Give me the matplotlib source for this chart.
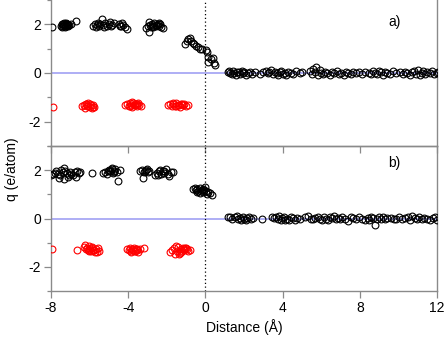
import matplotlib
matplotlib.use("Agg")
import matplotlib.pyplot as plt
import numpy as np

plt.rcParams['font.family'] = ['Liberation Sans', 'DejaVu Sans']
plt.rcParams['axes.unicode_minus'] = False

# ---------------- panel a) ----------------
a_black_x = [-7.95,
    -7.48, -7.44, -7.40, -7.36, -7.32, -7.28, -7.24, -7.20, -7.16, -7.12, -7.08,
    -7.42, -7.34, -7.26, -7.18, -7.10, -6.96, -6.72,
    -5.80, -5.74, -5.68, -5.62, -5.56, -5.50, -5.44, -5.36, -5.30, -5.24, -5.18, -5.10,
    -5.02, -4.96, -4.90, -4.84, -4.76, -4.50, -4.44, -4.38, -4.32, -4.26, -4.18, -4.08,
    -3.10, -3.00, -2.94, -2.88, -2.82, -2.76, -2.70, -2.64, -2.58, -2.52, -2.46, -2.40,
    -2.34, -2.28, -2.22, -2.90, -2.74, -2.56, -2.40,
    -1.05, -0.95, -0.88, -0.80, -0.74, -0.66, -0.58, -0.50, -0.40, -0.28, -0.18,
    0.02, 0.10, 0.16, 0.14, 0.30, 0.40, 0.44, 0.50]
a_black_y = [1.88,
    1.95, 2.02, 1.92, 2.00, 1.97, 1.90, 2.04, 1.95, 2.00, 1.93, 1.98,
    1.88, 2.06, 1.92, 2.02, 1.96, 2.03, 2.12,
    1.95, 2.02, 1.90, 1.98, 2.06, 1.93, 2.00, 2.20, 1.96, 1.88, 2.04, 1.95,
    2.00, 2.10, 1.92, 1.98, 2.05, 2.02, 1.95, 1.92, 2.06, 1.98, 1.90, 1.82,
    1.84, 1.92, 1.70, 1.98, 1.88, 2.02, 1.95, 2.05, 1.92, 1.98, 2.03, 1.94,
    2.00, 1.88, 1.86, 2.08, 1.90, 1.96, 2.06,
    1.20, 1.32, 1.38, 1.42, 1.30, 1.25, 1.18, 1.12, 1.05, 1.00, 0.98,
    0.95, 0.88, 0.66, 0.46, 0.58, 0.62, 0.42, 0.32]

a_red_x = [-7.90,
    -6.38, -6.30, -6.24, -6.18, -6.12, -6.06, -6.00, -5.94, -5.88, -5.82, -5.76,
    -6.20, -6.08, -5.96, -5.84,
    -4.15, -4.05, -3.98, -3.92, -3.86, -3.80, -3.74, -3.68, -3.62, -3.56, -3.50,
    -3.42, -3.32, -3.90, -3.78, -3.66, -3.54,
    -1.92, -1.82, -1.74, -1.66, -1.58, -1.50, -1.42, -1.34, -1.26, -1.18, -1.10,
    -1.02, -0.92, -1.70, -1.54, -1.38, -1.22]
a_red_y = [-1.38,
    -1.36, -1.30, -1.42, -1.28, -1.35, -1.25, -1.40, -1.32, -1.45, -1.30, -1.38,
    -1.26, -1.34, -1.28, -1.40,
    -1.30, -1.26, -1.34, -1.22, -1.30, -1.38, -1.25, -1.32, -1.28, -1.35, -1.24,
    -1.30, -1.34, -1.36, -1.20, -1.30, -1.27,
    -1.32, -1.26, -1.36, -1.28, -1.34, -1.22, -1.30, -1.38, -1.26, -1.32, -1.28,
    -1.35, -1.30, -1.24, -1.34, -1.30, -1.27]

a_base_x = [1.15, 1.22, 1.30, 1.36, 1.44, 1.50, 1.58, 1.64, 1.72, 1.80, 1.88, 1.95,
    2.02, 2.10, 2.20, 2.30, 2.42, 2.58,
    2.85, 3.00, 3.12, 3.22, 3.32, 3.42, 3.52, 3.60, 3.70, 3.78, 3.86, 3.94, 4.02,
    4.10, 4.20, 4.30, 4.42, 4.55, 4.70, 4.88, 5.02,
    5.42, 5.50, 5.58, 5.66, 5.75, 5.84, 5.92, 6.00, 6.10, 6.20, 6.32, 6.44, 6.56,
    6.68, 6.80, 6.92, 7.04, 7.16, 7.28, 7.40, 7.52, 7.66, 7.80, 7.95, 8.10, 8.28,
    8.50, 8.60, 8.70, 8.80, 8.90, 9.00, 9.10, 9.20, 9.30, 9.42, 9.55, 9.70, 9.85,
    10.10, 10.22, 10.34, 10.46, 10.58, 10.70, 10.80, 10.90, 11.00, 11.10, 11.20,
    11.30, 11.40, 11.50, 11.62, 11.74, 11.86, 11.98, 12.05]
a_base_y = [0.05, 0.08, 0.02, -0.06, 0.10, 0.00, -0.08, 0.06, 0.03, -0.04, 0.09, -0.02,
    0.05, -0.07, 0.01, 0.04, -0.03, 0.06,
    -0.05, 0.04, 0.08, -0.02, 0.06, 0.12, -0.06, 0.03, 0.00, -0.09, 0.05, 0.10, -0.03,
    0.02, -0.07, 0.06, 0.01, -0.04, 0.08, -0.02, 0.04,
    0.10, -0.06, 0.18, 0.04, 0.26, -0.08, 0.12, 0.02, -0.04, 0.06, 0.00, -0.10, 0.05,
    -0.02, 0.08, -0.06, 0.02, -0.08, 0.04, 0.00, -0.05, 0.06, -0.02, 0.03, -0.04, 0.05,
    0.02, -0.06, 0.08, 0.00, -0.04, 0.10, 0.04, -0.08, 0.06, 0.02, -0.03, 0.07, -0.02,
    0.03, -0.05, 0.06, 0.00, -0.08, 0.05, 0.10, -0.04, 0.12, -0.10, 0.02,
    0.08, -0.06, 0.04, 0.00, 0.07, -0.05, 0.02, 0.06]

# ---------------- panel b) ----------------
b_black_x = [-7.98, -7.90, -7.80, -7.72, -7.62, -7.55, -7.48, -7.40, -7.32, -7.25, -7.18,
    -7.10, -7.02, -6.95, -6.85, -6.75, -6.65, -6.55, -6.48, -7.60, -7.35, -7.05, -6.70,
    -5.90,
    -5.28, -5.20, -5.12, -5.05, -4.98, -4.92, -4.86, -4.80, -4.74, -4.68, -4.60, -4.52,
    -4.40, -4.95, -4.85, -4.75,
    -3.38, -3.30, -3.22, -3.15, -3.08, -3.00, -2.92, -2.60, -2.52, -2.44, -2.36, -2.28,
    -2.20, -2.12, -2.04, -1.96, -1.88, -1.80, -1.70, -3.20, -3.05, -2.40, -2.15,
    -0.62, -0.55, -0.48, -0.42, -0.36, -0.30, -0.24, -0.18, -0.12, -0.06, 0.00, 0.08,
    0.16, 0.24, 0.34, -0.45, -0.30, -0.15, 0.05]
b_black_y = [1.82, 1.86, 1.90, 1.95, 1.85, 1.78, 2.02, 1.92, 1.62, 1.98, 1.88,
    1.72, 1.94, 1.85, 1.78, 1.92, 1.96, 1.90, 1.94, 1.68, 2.08, 1.82, 1.72,
    1.88,
    1.88, 1.92, 1.85, 1.98, 2.02, 1.95, 2.06, 1.90, 1.98, 2.04, 1.92, 1.56,
    2.02, 1.96, 2.08, 1.92,
    1.98, 2.00, 1.66, 1.96, 2.02, 1.92, 1.98, 1.82, 1.90, 1.78, 2.02, 1.86,
    1.95, 1.98, 2.06, 1.84, 1.76, 1.92, 1.92, 1.94, 2.04, 1.96, 1.88,
    1.22, 1.26, 1.18, 1.24, 1.15, 1.28, 1.12, 1.20, 1.08, 1.16, 1.32, 1.02,
    1.10, 1.05, 0.96, 1.10, 1.05, 1.22, 1.14]

b_red_x = [-7.93, -6.67,
    -6.30, -6.22, -6.16, -6.10, -6.04, -5.98, -5.92, -5.86, -5.80, -5.74, -5.66, -5.58,
    -5.50, -6.20, -6.05, -5.90, -5.75, -5.60,
    -4.04, -3.96, -3.90, -3.84, -3.78, -3.72, -3.66, -3.60, -3.54, -3.48, -3.40, -3.20,
    -3.88, -3.76, -3.64, -3.52,
    -1.82, -1.72, -1.62, -1.55, -1.48, -1.40, -1.34, -1.28, -1.22, -1.16, -1.10, -1.04,
    -0.96, -0.88, -0.82, -1.50, -1.36, -1.24, -1.12, -0.98]
b_red_y = [-1.25, -1.30,
    -1.18, -1.10, -1.22, -1.30, -1.15, -1.28, -1.35, -1.22, -1.30, -1.38, -1.25, -1.20,
    -1.35, -1.28, -1.35, -1.18, -1.32, -1.40,
    -1.28, -1.32, -1.24, -1.36, -1.28, -1.22, -1.34, -1.26, -1.30, -1.38, -1.28, -1.22,
    -1.40, -1.30, -1.35, -1.25,
    -1.40, -1.30, -1.22, -1.45, -1.35, -1.18, -1.42, -1.28, -1.36, -1.24, -1.32, -1.20,
    -1.28, -1.35, -1.30, -1.12, -1.48, -1.38, -1.28, -1.22]

b_base_x = [1.15, 1.28, 1.40, 1.52, 1.62, 1.70, 1.78, 1.86, 1.94, 2.02, 2.10, 2.18,
    2.26, 2.36, 2.46,
    2.92,
    3.45, 3.55, 3.65, 3.75, 3.82, 3.90, 3.98, 4.06, 4.14, 4.22, 4.32, 4.42, 4.52,
    4.62, 4.75, 4.88,
    5.16, 5.30, 5.45, 5.58, 5.70, 5.82, 5.95, 6.05, 6.15, 6.25, 6.35, 6.45, 6.55,
    6.65, 6.75, 6.85, 6.95, 7.08, 7.22, 7.38, 7.52, 7.66, 7.80, 7.95, 8.10, 8.25,
    8.40, 8.50, 8.60, 8.70, 8.80, 8.90, 9.00, 9.10, 9.20, 9.30, 9.40,
    9.60, 9.75, 9.90, 10.05, 10.20, 10.35, 10.48, 10.60, 10.72, 10.84, 10.96, 11.08,
    11.20, 11.35, 11.50, 11.65, 11.80, 11.92, 12.02]
b_base_y = [0.08, 0.05, -0.02, 0.06, 0.10, -0.04, 0.02, -0.08, 0.06, 0.00, -0.06, 0.04,
    0.08, -0.03, 0.02,
    -0.04,
    0.05, 0.02, 0.08, -0.04, 0.12, -0.08, 0.04, 0.06, -0.06, 0.00, -0.08, 0.05, 0.02,
    -0.05, 0.04, -0.02,
    0.06, 0.10, 0.00, -0.04, 0.04, 0.08, -0.02, -0.06, 0.05, 0.00, -0.08, 0.06, 0.02,
    0.10, -0.04, 0.04, 0.00, 0.07, -0.02, -0.12, 0.05, 0.02, -0.04, 0.06, 0.00, -0.06,
    0.04, -0.06, 0.08, 0.02, -0.26, -0.04, 0.06, 0.00, 0.08, -0.04, 0.04,
    0.04, -0.02, 0.00, 0.06, -0.04, 0.02, 0.08, -0.06, 0.10, 0.04, -0.02, 0.06,
    -0.04, 0.02, 0.00, -0.06, 0.04, 0.08, -0.08]

x_ticks = [-8, -4, 0, 4, 8, 12]
y_ticks = [-2, 0, 2]
panel_labels = ["a)", "b)"]
label_ypos = [0.85, 0.88]

fig = plt.figure(figsize=(4.45, 3.38), dpi=100)
L, R = 51 / 445, 437 / 445
ax_a = fig.add_axes([L, 1 - 146 / 338, R - L, 146 / 338])
ax_b = fig.add_axes([L, 1 - 291 / 338, R - L, 145 / 338])

gray = "#8a8a8a"
fs = 10
panels = [
    (ax_a, a_black_x, a_black_y, a_red_x, a_red_y, a_base_x, a_base_y),
    (ax_b, b_black_x, b_black_y, b_red_x, b_red_y, b_base_x, b_base_y),
]
for i, (ax, bx, by, rx, ry, zx, zy) in enumerate(panels):
    ax.axhline(0, color="#a8a8f4", lw=1.3, zorder=1)
    ax.axvline(0, color="black", lw=0.9, ls=(0, (1, 2)), zorder=1)
    mk = dict(ls="none", marker="o", ms=4.9, mfc="none", mew=0.8, zorder=3)
    ax.plot(bx, by, mec="black", **mk)
    ax.plot(zx, zy, mec="black", **mk)
    ax.plot(rx, ry, mec="#ff0000", **mk)
    ax.set_xlim(-8, 12)
    ax.set_ylim(-3, 3)
    ax.set_xticks(x_ticks)
    ax.set_yticks(y_ticks)
    ax.set_yticks([-3, -1, 1, 3], minor=True)
    for s in ax.spines.values():
        s.set_color(gray)
        s.set_linewidth(1.0)
    ax.tick_params(axis="both", which="major", direction="out", length=5, width=0.9,
                   color=gray, labelsize=fs, pad=2)
    ax.tick_params(axis="y", which="minor", direction="out", length=3, width=0.9, color=gray)
    ax.text(0.89, label_ypos[i], panel_labels[i], transform=ax.transAxes, fontsize=fs,
            ha="center", va="center")
    ax.patch.set_alpha(0)

ax_a.spines["top"].set_visible(False)
ax_a.tick_params(axis="x", labelbottom=False)
ax_b.set_xticklabels([str(t) for t in x_ticks])
ax_b.set_xlabel("Distance (Å)", fontsize=fs, labelpad=3)
fig.text(12 / 445, 0.5, "q (e/atom)", rotation=90, ha="center", va="center", fontsize=fs)

fig.savefig("out.png", dpi=100)
